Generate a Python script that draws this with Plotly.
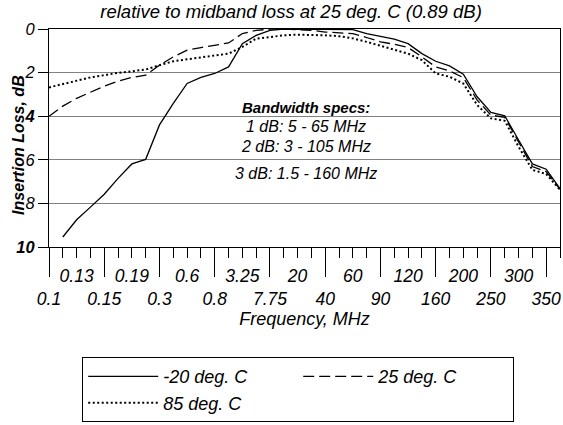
import plotly.graph_objects as go

# ---- data -------------------------------------------------------------
# category positions (one per measured frequency point); only every other one is labelled
freq_labels = ["0.1", "", "0.13", "", "0.15", "", "0.19", "", "0.3", "", "0.6", "",
               "0.8", "", "3.25", "", "7.75", "", "20", "", "40", "", "60", "",
               "90", "", "120", "", "160", "", "200", "", "250", "", "300", "",
               "350", ""]
idx = list(range(len(freq_labels)))

loss_m20 = [None, 9.54, 8.75, 8.17, 7.58, 6.85, 6.19, 5.98, 4.4, 3.41, 2.5, 2.22, 2.04,
            1.74, 0.67, 0.29, 0.06, 0.0, 0.0, 0.02, 0.03, 0.03, 0.03, 0.21, 0.33, 0.46,
            0.67, 1.13, 1.48, 1.69, 2.07, 3.11, 3.83, 3.98, 5.09, 6.19, 6.43, 7.32]
loss_25 = [4.0, 3.54, 3.18, 2.91, 2.62, 2.39, 2.22, 2.12, 1.66, 1.28, 0.97, 0.85, 0.75,
           0.64, 0.21, 0.06, 0.01, 0.0, 0.03, 0.06, 0.14, 0.17, 0.21, 0.39, 0.59, 0.7,
           0.85, 1.28, 1.74, 1.92, 2.23, 3.26, 3.95, 4.05, 5.17, 6.31, 6.54, 7.35]
loss_85 = [2.68, 2.53, 2.35, 2.22, 2.12, 2.01, 1.94, 1.86, 1.66, 1.48, 1.39, 1.31, 1.23,
           1.13, 0.82, 0.44, 0.37, 0.29, 0.26, 0.27, 0.29, 0.33, 0.43, 0.59, 0.78, 0.94,
           1.13, 1.43, 2.04, 2.19, 2.5, 3.49, 4.1, 4.21, 5.4, 6.46, 6.65, 7.38]

y_tick_vals = [0, 2, 4, 6, 8, 10]
y_tick_text = ["0", "2", "<b>4</b>", "6", "8", "<b>10</b>"]

series_names = ["-20 deg. C", "25 deg. C", "85 deg. C"]
spec_lines = ["<b>Bandwidth specs:</b>", "1 dB: 5 - 65 MHz", "2 dB: 3 - 105 MHz",
              "3 dB: 1.5 - 160 MHz"]
spec_y = [3.6, 4.48, 5.4, 6.65]

# ---- figure -----------------------------------------------------------
FONT = "Arial, Liberation Sans, sans-serif"

# stagger labels on two rows: i % 4 == 0 go on the lower row
tick_text = [("<br>" + t) if (i % 4 == 0 and t) else t for i, t in enumerate(freq_labels)]
long_ticks = [i for i in idx if i % 4 == 0 and freq_labels[i]]

fig = go.Figure()
fig.add_trace(go.Scatter(x=idx, y=loss_m20, mode="lines", name=series_names[0],
                         line=dict(color="black", width=1.3)))
fig.add_trace(go.Scatter(x=idx, y=loss_25, mode="lines", name=series_names[1],
                         line=dict(color="black", width=1.3, dash="11px,5px")))
fig.add_trace(go.Scatter(x=idx, y=loss_85, mode="lines", name=series_names[2],
                         xaxis="x2",
                         line=dict(color="black", width=2, dash="2px,2.5px")))

for txt, yy in zip(spec_lines, spec_y):
    fig.add_annotation(text=txt, xref="paper", x=0.503, yref="y", y=yy,
                       showarrow=False, xanchor="center", yanchor="middle",
                       font=dict(family=FONT, size=16 if "<b>" not in txt else 15,
                                 color="black", style="italic"))

fig.add_annotation(text="<b>Insertion Loss, dB</b>", textangle=-90,
                   xref="paper", x=-0.060, yref="paper", y=0.47,
                   showarrow=False, xanchor="center", yanchor="middle",
                   font=dict(family=FONT, size=16, color="black", style="italic"))

fig.update_layout(
    width=563, height=425,
    margin=dict(l=49, r=3, t=29, b=178, autoexpand=False),
    paper_bgcolor="white", plot_bgcolor="white",
    title=dict(text="relative to midband loss at 25 deg. C (0.89 dB)",
               x=0.517, xref="container", xanchor="center",
               y=1 - 12 / 425, yref="container", yanchor="middle",
               font=dict(family=FONT, size=18.5, color="black", style="italic")),
    xaxis=dict(range=[0, 37], tickmode="array", tickvals=idx, ticktext=tick_text,
               ticks="outside", ticklen=10, tickcolor="black", tickwidth=1,
               tickangle=0, ticklabelstandoff=3,
               tickfont=dict(family=FONT, size=17.5, color="black", style="italic"),
               showgrid=False, zeroline=False, showline=True, mirror=True,
               linecolor="black", linewidth=1, automargin=False,
               title=dict(text="Frequency, MHz", standoff=4,
                          font=dict(family=FONT, size=18, color="black", style="italic"))),
    xaxis2=dict(range=[0, 37], overlaying="x", anchor="y", side="bottom",
                tickmode="array", tickvals=long_ticks, ticks="outside", ticklen=29,
                tickcolor="black", tickwidth=1, showticklabels=False,
                showgrid=False, zeroline=False, showline=False, automargin=False),
    yaxis=dict(range=[10, 0], tickmode="array", tickvals=y_tick_vals,
               ticktext=y_tick_text, ticks="outside", ticklen=10, tickcolor="black",
               tickfont=dict(family=FONT, size=16.5, color="black", style="italic"),
               showgrid=True, gridcolor="#808080", gridwidth=1, zeroline=False,
               showline=True, mirror=True, linecolor="black", linewidth=1,
               automargin=False),
    showlegend=True,
    legend=dict(orientation="h", x=0.065, xanchor="left", y=-0.505, yanchor="top",
                bordercolor="black", borderwidth=1, bgcolor="white",
                itemwidth=70, entrywidth=130, entrywidthmode="pixels",
                font=dict(family=FONT, size=18, color="black", style="italic")),
)

fig.write_html("out.html", config={"displayModeBar": False},
               post_script="document.body.style.margin='0px';"
                           "document.body.style.overflow='hidden';")
